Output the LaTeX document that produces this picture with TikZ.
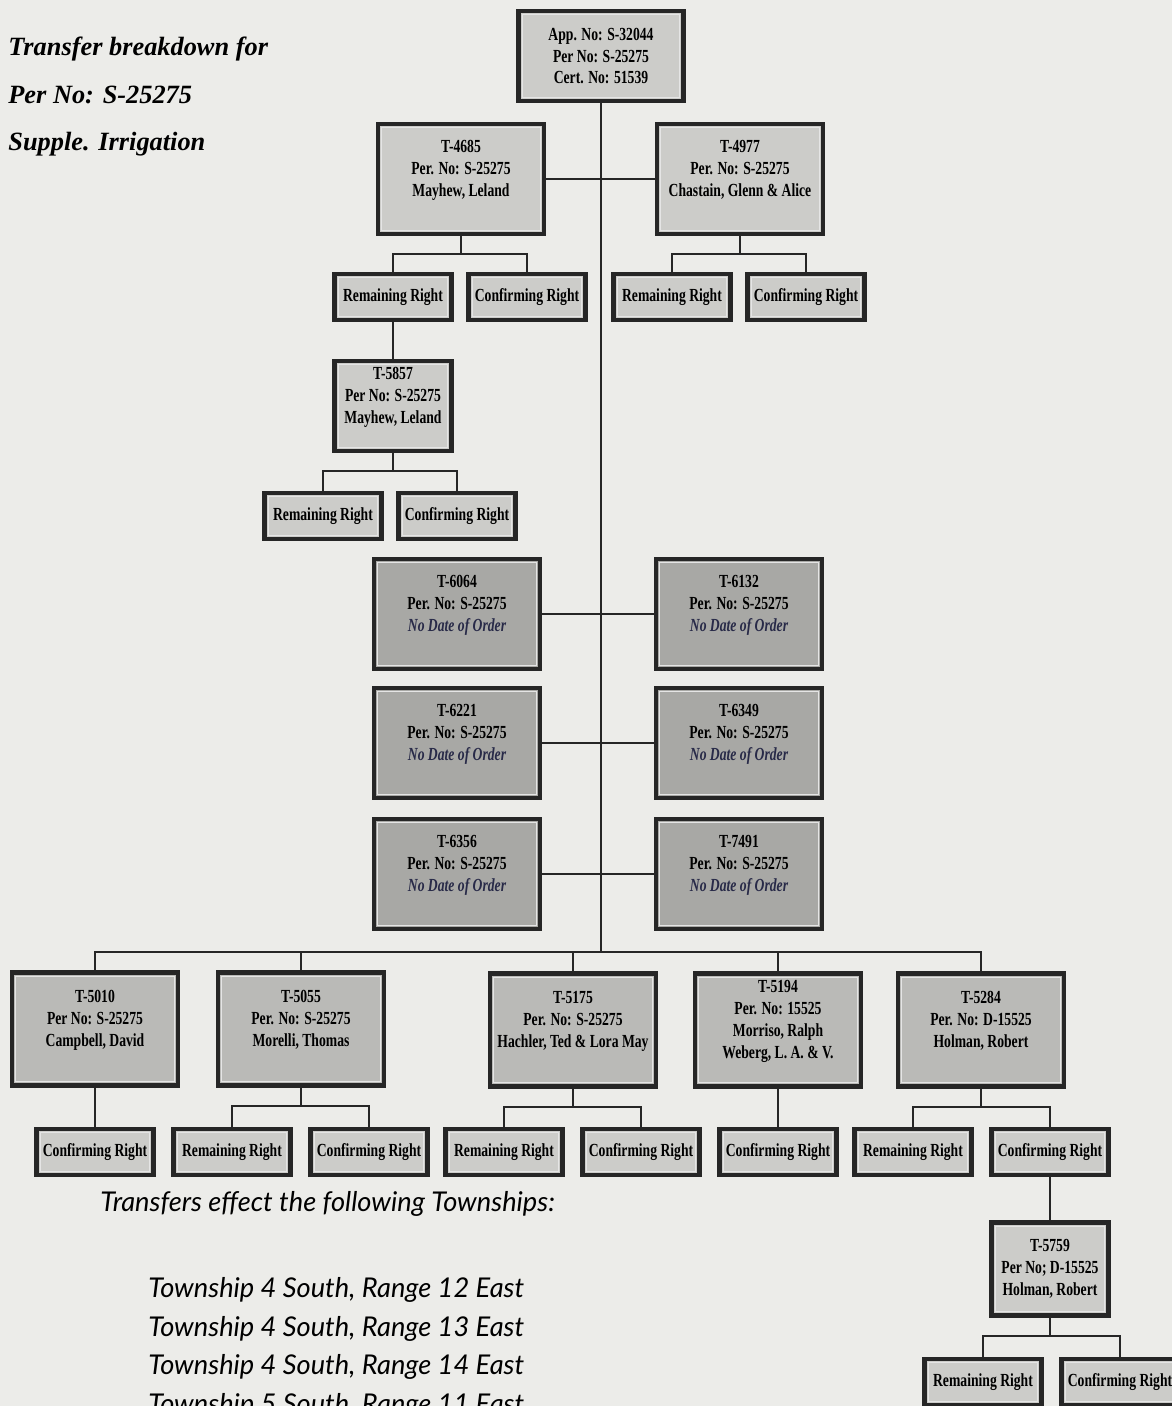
\documentclass[tikz,border=0pt]{standalone}
\usepackage{fontspec}
\setmainfont{Liberation Serif}
\newfontfamily\boxfont{Liberation Serif}[FakeStretch=0.74]
\newfontfamily\townfont{Lato}
\definecolor{paper}{RGB}{236,236,233}
\definecolor{frame}{RGB}{38,38,38}
\definecolor{boxlight}{RGB}{204,204,201}
\definecolor{boxmid}{RGB}{186,186,183}
\definecolor{boxdark}{RGB}{168,168,165}
\definecolor{nodate}{RGB}{40,42,72}

\tikzset{
 tbox/.style={draw=frame,line width=2.6pt,fill=boxlight,align=center,inner sep=1pt,
  font=\boxfont\bfseries\fontsize{10.5}{12.5}\selectfont,
  path picture={\draw[white!80!gray,line width=0.5pt]
   ([shift={(2.2pt,2.2pt)}]path picture bounding box.south west) rectangle
   ([shift={(-2.2pt,-2.2pt)}]path picture bounding box.north east);}},
 topbox/.style={tbox,minimum width=3.3cm,minimum height=1.8cm},
 bigbox/.style={tbox,minimum width=3.32cm,minimum height=2.2cm},
 darkbox/.style={bigbox,fill=boxdark},
 lowbox/.style={bigbox,fill=boxmid,minimum height=2.26cm},
 midbox/.style={tbox,minimum width=2.34cm,minimum height=1.8cm},
 rightbox/.style={tbox,minimum width=2.34cm,minimum height=0.92cm},
 link/.style={draw=black!85,line width=1.1pt},
 hand/.style={font=\bfseries\itshape\fontsize{15}{27}\selectfont,align=left,inner sep=0pt},
 town/.style={font=\townfont\itshape\fontsize{15.5}{22}\selectfont,align=left,inner sep=0pt}
}

\begin{document}
\begin{tikzpicture}[x=0.2mm,y=-0.2mm]
 \useasboundingbox (0,0) rectangle (1172,1406);
 \fill[paper] (0,0) rectangle (1172,1406);

 \node[hand,anchor=north west] (title) at (8,37) {Transfer breakdown for\\Per No: S-25275\\Supple. Irrigation};

 \node[topbox] (app) at (601,56) {App. No: S-32044\\Per No: S-25275\\Cert. No: 51539};
 \coordinate (bus) at (601,952);

 \node[bigbox] (t4685) at (461,179) {T-4685\\Per. No: S-25275\\Mayhew, Leland\\\mbox{}};
 \node[bigbox] (t4977) at (740,179) {T-4977\\Per. No: S-25275\\Chastain, Glenn \& Alice\\\mbox{}};
 \node[rightbox] (rr1) at (393,297) {Remaining Right};
 \node[rightbox] (cr1) at (527,297) {Confirming Right};
 \node[rightbox] (rr2) at (672,297) {Remaining Right};
 \node[rightbox] (cr2) at (806,297) {Confirming Right};

 \node[midbox] (t5857) at (393,406) {T-5857\\Per No: S-25275\\Mayhew, Leland\\\mbox{}};
 \node[rightbox] (rr3) at (323,516) {Remaining Right};
 \node[rightbox] (cr3) at (457,516) {Confirming Right};

 \node[darkbox] (t6064) at (457,614) {T-6064\\Per. No: S-25275\\{\itshape\color{nodate}No Date of Order}\\\mbox{}};
 \node[darkbox] (t6132) at (739,614) {T-6132\\Per. No: S-25275\\{\itshape\color{nodate}No Date of Order}\\\mbox{}};
 \node[darkbox] (t6221) at (457,743) {T-6221\\Per. No: S-25275\\{\itshape\color{nodate}No Date of Order}\\\mbox{}};
 \node[darkbox] (t6349) at (739,743) {T-6349\\Per. No: S-25275\\{\itshape\color{nodate}No Date of Order}\\\mbox{}};
 \node[darkbox] (t6356) at (457,874) {T-6356\\Per. No: S-25275\\{\itshape\color{nodate}No Date of Order}\\\mbox{}};
 \node[darkbox] (t7491) at (739,874) {T-7491\\Per. No: S-25275\\{\itshape\color{nodate}No Date of Order}\\\mbox{}};

 \node[lowbox] (t5010) at (95,1029) {T-5010\\Per No: S-25275\\Campbell, David\\\mbox{}};
 \node[lowbox] (t5055) at (301,1029) {T-5055\\Per. No: S-25275\\Morelli, Thomas\\\mbox{}};
 \node[lowbox] (t5175) at (573,1030) {T-5175\\Per. No: S-25275\\Hachler, Ted \& Lora May\\\mbox{}};
 \node[lowbox] (t5194) at (778,1030) {T-5194\\Per. No: 15525\\Morriso, Ralph\\Weberg, L. A. \& V.\\\mbox{}};
 \node[lowbox] (t5284) at (981,1030) {T-5284\\Per. No: D-15525\\Holman, Robert\\\mbox{}};

 \node[rightbox] (cr4) at (95,1152) {Confirming Right};
 \node[rightbox] (rr5) at (232,1152) {Remaining Right};
 \node[rightbox] (cr5) at (369,1152) {Confirming Right};
 \node[rightbox] (rr6) at (504,1152) {Remaining Right};
 \node[rightbox] (cr6) at (641,1152) {Confirming Right};
 \node[rightbox] (cr7) at (778,1152) {Confirming Right};
 \node[rightbox] (rr8) at (913,1152) {Remaining Right};
 \node[rightbox] (cr8) at (1050,1152) {Confirming Right};

 \node[midbox,minimum height=1.86cm] (t5759) at (1050,1269) {T-5759\\Per No; D-15525\\Holman, Robert};
 \node[rightbox] (rr9) at (983,1382) {Remaining Right};
 \node[rightbox] (cr9) at (1120,1382) {Confirming Right};

 \node[town,anchor=west] (effect) at (100,1204) {Transfers effect the following Townships:};
 \node[town,anchor=north west] (towns) at (148,1277) {Township 4 South, Range 12 East\\Township 4 South, Range 13 East\\Township 4 South, Range 14 East\\Township 5 South, Range 11 East};

 \draw[link] (app) -- (bus);
 \draw[link] (t4685) -- (t4977);
 \draw[link] (t6064) -- (t6132);
 \draw[link] (t6221) -- (t6349);
 \draw[link] (t6356) -- (t7491);
 \draw[link] (t5010.north) |- (bus) -| (t5284.north);
 \draw[link] (t5055.north) -- (t5055.north |- bus);
 \draw[link] (t5175.north) -- (t5175.north |- bus);
 \draw[link] (t5194.north) -- (t5194.north |- bus);

 \foreach \p/\a/\b in {t4685/rr1/cr1,t4977/rr2/cr2,t5857/rr3/cr3,t5055/rr5/cr5,t5175/rr6/cr6,t5284/rr8/cr8,t5759/rr9/cr9}
  \draw[link] (\p.south) -- ++(0,18) coordinate (f) -| (\a.north) (f) -| (\b.north);

 \draw[link] (rr1) -- (t5857);
 \draw[link] (t5010) -- (cr4);
 \draw[link] (t5194) -- (cr7);
 \draw[link] (cr8) -- (t5759);
\end{tikzpicture}
\end{document}
